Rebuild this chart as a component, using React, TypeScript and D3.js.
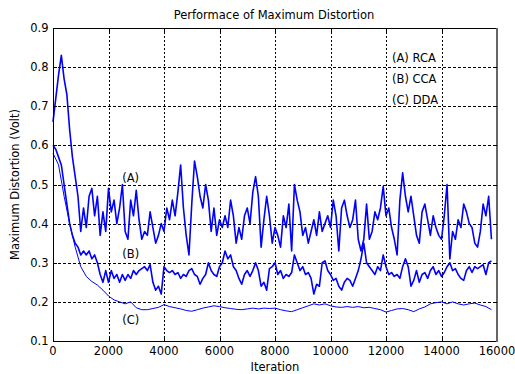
import React from "react";
import * as d3 from "d3";

const W = 515;
const H = 374;

// x tick labels / y tick labels
const xTicks = [0, 2000, 4000, 6000, 8000, 10000, 12000, 14000, 16000];
const yTicks = [0.1, 0.2, 0.3, 0.4, 0.5, 0.6, 0.7, 0.8, 0.9];

// Iterations for series A and B (every 100), C (every 200)
const iterAB = d3.range(0, 15801, 100);
const iterC = d3.range(0, 15801, 200);

// (A) RCA
const seriesA = [
  0.66, 0.72, 0.78, 0.83, 0.77, 0.73, 0.64, 0.57, 0.52, 0.47,
  0.38, 0.44, 0.39, 0.47, 0.49, 0.42, 0.47, 0.37, 0.43, 0.38,
  0.49, 0.43, 0.46, 0.40, 0.44, 0.50, 0.38, 0.36, 0.46, 0.42,
  0.485, 0.41, 0.36, 0.38, 0.37, 0.43, 0.39, 0.35, 0.37, 0.40,
  0.38, 0.44, 0.41, 0.46, 0.42, 0.48, 0.55, 0.44, 0.37, 0.32,
  0.45, 0.56, 0.52, 0.47, 0.44, 0.50, 0.46, 0.38, 0.44, 0.37,
  0.41, 0.39, 0.42, 0.39, 0.46, 0.42, 0.35, 0.39, 0.36, 0.42,
  0.44, 0.40, 0.48, 0.52, 0.47, 0.34, 0.41, 0.47, 0.42, 0.35,
  0.39, 0.37, 0.34, 0.42, 0.39, 0.45, 0.33, 0.50, 0.46, 0.43,
  0.37, 0.39, 0.35, 0.38, 0.41, 0.37, 0.43, 0.38, 0.40, 0.42,
  0.39, 0.46, 0.42, 0.33, 0.44, 0.46, 0.42, 0.39, 0.41, 0.46,
  0.36, 0.33, 0.36, 0.45, 0.36, 0.38, 0.43, 0.41, 0.44, 0.495,
  0.42, 0.44, 0.39, 0.36, 0.32, 0.46, 0.53, 0.47, 0.43, 0.47,
  0.42, 0.37, 0.35, 0.43, 0.45, 0.41, 0.37, 0.42, 0.39, 0.37,
  0.36, 0.42, 0.50, 0.31, 0.38, 0.36, 0.41, 0.39, 0.45, 0.43,
  0.40, 0.39, 0.35, 0.34, 0.38, 0.45, 0.42, 0.47, 0.36,
];

// (B) CCA
const seriesB = [
  0.60, 0.59, 0.57, 0.55, 0.50, 0.45, 0.40, 0.37, 0.35, 0.34,
  0.32, 0.33, 0.32, 0.33, 0.31, 0.32, 0.30, 0.27, 0.25, 0.28,
  0.25, 0.28, 0.26, 0.27, 0.25, 0.27, 0.255, 0.27, 0.26, 0.28,
  0.27, 0.28, 0.285, 0.29, 0.28, 0.295, 0.25, 0.23, 0.24, 0.22,
  0.29, 0.28, 0.275, 0.28, 0.27, 0.275, 0.26, 0.27, 0.265, 0.28,
  0.285, 0.27, 0.265, 0.245, 0.26, 0.27, 0.30, 0.28, 0.27, 0.265,
  0.29, 0.30, 0.33, 0.31, 0.32, 0.29, 0.28, 0.26, 0.245, 0.27,
  0.28, 0.265, 0.28, 0.30, 0.28, 0.24, 0.25, 0.23, 0.285, 0.29,
  0.30, 0.27, 0.28, 0.26, 0.27, 0.265, 0.275, 0.32, 0.30, 0.28,
  0.29, 0.27, 0.275, 0.26, 0.22, 0.245, 0.24, 0.30, 0.305, 0.28,
  0.27, 0.255, 0.26, 0.24, 0.23, 0.25, 0.26, 0.255, 0.24, 0.26,
  0.28, 0.31, 0.35, 0.30, 0.29, 0.28, 0.27, 0.29, 0.28, 0.32,
  0.29, 0.27, 0.275, 0.265, 0.27, 0.26, 0.29, 0.31, 0.29, 0.24,
  0.255, 0.28, 0.25, 0.27, 0.275, 0.26, 0.28, 0.29, 0.27, 0.28,
  0.265, 0.275, 0.29, 0.30, 0.28, 0.285, 0.27, 0.26, 0.255, 0.28,
  0.29, 0.275, 0.29, 0.285, 0.29, 0.295, 0.27, 0.30, 0.305,
];

// (C) DDA
const seriesC = [
  0.58, 0.55, 0.47, 0.40, 0.34, 0.29, 0.265, 0.252, 0.243, 0.23,
  0.215, 0.205, 0.2, 0.195, 0.2, 0.185, 0.18, 0.18, 0.183, 0.186,
  0.193, 0.188, 0.185, 0.182, 0.178, 0.176, 0.18, 0.184, 0.187, 0.19,
  0.188, 0.185, 0.183, 0.181, 0.18, 0.182, 0.184, 0.182, 0.184, 0.183,
  0.184, 0.18, 0.177, 0.175, 0.18, 0.185, 0.19, 0.195, 0.192, 0.195,
  0.19, 0.187, 0.186, 0.188, 0.186, 0.188, 0.185, 0.186, 0.183, 0.18,
  0.174, 0.178, 0.182, 0.183, 0.18, 0.175, 0.182, 0.187, 0.195, 0.198,
  0.2, 0.195, 0.2, 0.195, 0.192, 0.195, 0.197, 0.192, 0.188, 0.18,
];

const legendLines = ["(A) RCA", "(B) CCA", "(C) DDA"];
const curveLabels = [
  { text: "(A)", it: 2800, v: 0.517 },
  { text: "(B)", it: 2800, v: 0.322 },
  { text: "(C)", it: 2800, v: 0.154 },
];

const FONT = "'DejaVu Sans', sans-serif";

export default function App() {
  const x = d3.scaleLinear().domain([0, 16000]).range([53, 497]);
  const y = d3.scaleLinear().domain([0.1, 0.9]).range([341, 28]);

  const line = d3
    .line<[number, number]>()
    .x((d) => x(d[0]))
    .y((d) => y(d[1]));

  const dataA = iterAB.map((it, i) => [it, seriesA[i]] as [number, number]).filter((d) => d[1] !== undefined);
  const dataB = iterAB.map((it, i) => [it, seriesB[i]] as [number, number]).filter((d) => d[1] !== undefined);
  const dataC = iterC.map((it, i) => [it, seriesC[i]] as [number, number]).filter((d) => d[1] !== undefined);

  const x0 = x(0), x1 = x(16000), y0 = y(0.1), y1 = y(0.9);
  const crisp = (v: number) => Math.round(v) + 0.5;

  return (
    <svg
      width={W}
      height={H}
      viewBox={`0 0 ${W} ${H}`}
      style={{ position: "absolute", left: 0, top: 0, background: "#fff" }}
      fontFamily={FONT}
    >
      <rect x={0} y={0} width={W} height={H} fill="#fff" />
      {/* grid */}
      {xTicks.slice(1, -1).map((t) => (
        <line key={"gx" + t} x1={crisp(x(t))} x2={crisp(x(t))} y1={y1} y2={y0}
          stroke="#000" strokeWidth={1} strokeDasharray="2,2" />
      ))}
      {yTicks.slice(1, -1).map((t) => (
        <line key={"gy" + t} x1={x0} x2={x1} y1={crisp(y(t))} y2={crisp(y(t))}
          stroke="#000" strokeWidth={1} strokeDasharray="3,2" />
      ))}
      {/* series */}
      <path d={line(dataC) || ""} fill="none" stroke="#0000ff" strokeWidth={1} />
      <path d={line(dataB) || ""} fill="none" stroke="#0000ff" strokeWidth={1.6} strokeLinejoin="round" />
      <path d={line(dataA) || ""} fill="none" stroke="#0000ff" strokeWidth={1.6} strokeLinejoin="round" />
      {/* box */}
      <line x1={crisp(x0)} x2={crisp(x0)} y1={y1} y2={y0 + 0.5} stroke="#000" />
      <line x1={x0} x2={x1} y1={crisp(y0)} y2={crisp(y0)} stroke="#000" />
      <line x1={x0} x2={x1} y1={crisp(y1)} y2={crisp(y1)} stroke="#000" />
      <line x1={x1} x2={x1} y1={y1} y2={y0 + 1} stroke="#666" strokeWidth={2} />
      {/* ticks inside */}
      {xTicks.slice(1, -1).map((t) => (
        <g key={"tx" + t}>
          <line x1={crisp(x(t))} x2={crisp(x(t))} y1={y0} y2={y0 - 4} stroke="#000" />
          <line x1={crisp(x(t))} x2={crisp(x(t))} y1={y1} y2={y1 + 4} stroke="#000" />
        </g>
      ))}
      {yTicks.slice(1, -1).map((t) => (
        <g key={"ty" + t}>
          <line x1={x0} x2={x0 + 4} y1={crisp(y(t))} y2={crisp(y(t))} stroke="#000" />
          <line x1={x1 - 4} x2={x1} y1={crisp(y(t))} y2={crisp(y(t))} stroke="#000" />
        </g>
      ))}
      {/* tick labels */}
      {xTicks.map((t) => (
        <text key={"lx" + t} x={x(t)} y={355} fontSize={11.5} textAnchor="middle" fill="#000">
          {t}
        </text>
      ))}
      {yTicks.map((t) => (
        <text key={"ly" + t} x={48.5} y={y(t) + 4} fontSize={11.5} textAnchor="end" fill="#000">
          {t.toFixed(1)}
        </text>
      ))}
      {/* titles */}
      <text x={274} y={19} fontSize={11.5} textAnchor="middle" fill="#000">
        Performace of Maximum Distortion
      </text>
      <text x={275} y={371} fontSize={11.5} textAnchor="middle" fill="#000">
        Iteration
      </text>
      <text transform={`translate(18.5,${(y0 + y1) / 2}) rotate(-90)`} fontSize={11.5} textAnchor="middle" fill="#000">
        Maximum Distortion (Volt)
      </text>
      {/* legend text */}
      {legendLines.map((s, i) => (
        <text key={s} x={392} y={62 + i * 21} fontSize={11.5} fill="#000">
          {s}
        </text>
      ))}
      {curveLabels.map((c) => (
        <text key={c.text} x={x(c.it)} y={y(c.v) + 4} fontSize={11.5} textAnchor="middle" fill="#000">
          {c.text}
        </text>
      ))}
    </svg>
  );
}
